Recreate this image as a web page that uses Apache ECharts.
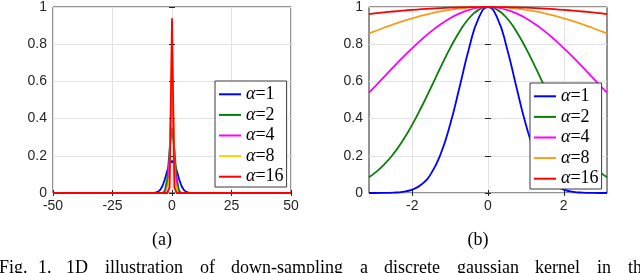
<!DOCTYPE html>
<html>
<head>
<meta charset="utf-8">
<script src="https://cdn.jsdelivr.net/npm/echarts@6/dist/echarts.min.js"></script>
<style>
html,body{margin:0;padding:0;background:#fff;}
#c{width:640px;height:273px;}
</style>
</head>
<body>
<div id="c"></div>
<script>
// ---- data ----
const seriesNames = ['α=1', 'α=2', 'α=4', 'α=8', 'α=16'];

// (a) spatial kernels
const xA = [-50, -8, -7, -6, -5, -4, -3, -2, -1, 0, 1, 2, 3, 4, 5, 6, 7, 8, 50];
const a1 = [0, 0.0004, 0.002, 0.006, 0.016, 0.038, 0.074, 0.119, 0.157, 0.173, 0.157, 0.119, 0.074, 0.038, 0.016, 0.006, 0.002, 0.0004, 0];
const a2 = [0, 0, 0, 0, 0, 0.0007, 0.011, 0.075, 0.238, 0.35, 0.238, 0.075, 0.011, 0.0007, 0, 0, 0, 0, 0];
const a4 = [0, 0, 0, 0, 0, 0, 0, 0.005, 0.19, 0.62, 0.19, 0.005, 0, 0, 0, 0, 0, 0, 0];
const a8 = [0, 0, 0, 0, 0, 0, 0, 0.0005, 0.09, 0.82, 0.09, 0.0005, 0, 0, 0, 0, 0, 0, 0];
const a16 = [0, 0, 0, 0, 0, 0, 0, 0, 0.03, 0.94, 0.03, 0, 0, 0, 0, 0, 0, 0, 0];

// (b) frequency responses
const xB = [-3.1416, -3, -2.75, -2.5, -2.25, -2, -1.75, -1.5, -1.25, -1, -0.75, -0.5, -0.25, 0,
            0.25, 0.5, 0.75, 1, 1.25, 1.5, 1.75, 2, 2.25, 2.5, 2.75, 3, 3.1416];
const b1 = [0.0001, 0.0001, 0.0005, 0.0019, 0.0063, 0.0183, 0.0468, 0.1054, 0.2096, 0.3679, 0.5698, 0.7788, 0.9394, 1,
            0.9394, 0.7788, 0.5698, 0.3679, 0.2096, 0.1054, 0.0468, 0.0183, 0.0063, 0.0019, 0.0005, 0.0001, 0.0001];
const b2 = [0.0848, 0.1054, 0.1510, 0.2096, 0.2821, 0.3679, 0.4650, 0.5698, 0.6766, 0.7788, 0.8688, 0.9394, 0.9845, 1,
            0.9845, 0.9394, 0.8688, 0.7788, 0.6766, 0.5698, 0.4650, 0.3679, 0.2821, 0.2096, 0.1510, 0.1054, 0.0848];
const b4 = [0.5396, 0.5698, 0.6233, 0.6766, 0.7288, 0.7788, 0.8258, 0.8688, 0.9070, 0.9394, 0.9654, 0.9845, 0.9961, 1,
            0.9961, 0.9845, 0.9654, 0.9394, 0.9070, 0.8688, 0.8258, 0.7788, 0.7288, 0.6766, 0.6233, 0.5698, 0.5396];
const b8 = [0.8571, 0.8688, 0.8885, 0.9070, 0.9239, 0.9394, 0.9533, 0.9654, 0.9759, 0.9845, 0.9912, 0.9961, 0.9990, 1,
            0.9990, 0.9961, 0.9912, 0.9845, 0.9759, 0.9654, 0.9533, 0.9394, 0.9239, 0.9070, 0.8885, 0.8688, 0.8571];
const b16 = [0.9622, 0.9654, 0.9709, 0.9759, 0.9804, 0.9845, 0.9881, 0.9912, 0.9939, 0.9961, 0.9978, 0.9990, 0.9998, 1,
             0.9998, 0.9990, 0.9978, 0.9961, 0.9939, 0.9912, 0.9881, 0.9845, 0.9804, 0.9759, 0.9709, 0.9654, 0.9622];

const xTicksA = [-50, -25, 0, 25, 50];
const xTicksB = [-2, 0, 2];
const yTicks = [0, 0.2, 0.4, 0.6, 0.8, 1];

const subLabels = ['(a)', '(b)'];
const captionWords = ['Fig.', '1.', '1D', 'illustration', 'of', 'down-sampling', 'a', 'discrete', 'gaussian', 'kernel', 'in', 'the'];

// ---- styles ----
const colorsA = ['#0000ff', '#008000', '#ff00ff', '#ffd200', '#ff0000'];
const colorsB = ['#0000ff', '#0a7d0a', '#ff00ff', '#f0a020', '#ff0000'];
const captionX = [-1, 38, 66, 105, 200, 231, 360, 384, 457, 535, 597, 628];

const dataA = [a1, a2, a4, a8, a16];
const dataB = [b1, b2, b4, b8, b16];

const axisColor = '#262626';
const labelFont = {fontFamily: 'Liberation Sans', fontSize: 14, color: axisColor};

function pair(xs, ys) { return xs.map((x, i) => [x, ys[i]]); }

function xAxisCfg(gridIndex, pos, opts) {
  return Object.assign({
    type: 'value', gridIndex, position: pos,
    axisLine: {show: false},
    axisTick: {show: true, inside: true, length: 3, lineStyle: {color: axisColor}},
    axisLabel: Object.assign({show: pos === 'bottom', margin: 6}, labelFont),
    splitLine: {show: pos === 'bottom', lineStyle: {color: '#e3e3e3', width: 1}}
  }, opts);
}
function yAxisCfg(gridIndex, pos) {
  return {
    type: 'value', gridIndex, position: pos, min: 0, max: 1, interval: 0.2,
    axisLine: {show: false},
    axisTick: {show: true, inside: true, length: 3, lineStyle: {color: axisColor}},
    axisLabel: Object.assign({show: pos === 'left', margin: 6}, labelFont),
    splitLine: {show: pos === 'left', lineStyle: {color: '#e3e3e3', width: 1}}
  };
}

const aOpts = {min: xTicksA[0], max: xTicksA[xTicksA.length - 1], interval: 25};
const bOpts = {
  min: xB[0], max: xB[xB.length - 1],
  axisLabel: Object.assign({show: true, margin: 6, customValues: xTicksB}, labelFont),
  axisTick: {show: true, inside: true, length: 3, customValues: xTicksB, lineStyle: {color: axisColor}}
};
const bOptsTop = {
  min: xB[0], max: xB[xB.length - 1],
  axisLabel: {show: false},
  axisTick: {show: true, inside: true, length: 3, customValues: xTicksB, lineStyle: {color: axisColor}}
};

function legendCfg(left, top, colors) {
  return {
    orient: 'vertical', left, top, itemGap: 0, itemWidth: 22, itemHeight: 2, icon: 'rect',
    padding: [3, 3, 0, 4], backgroundColor: '#fff', borderColor: '#3a3a3a', borderWidth: 1,
    selectedMode: false,
    data: seriesNames.map((n, i) => ({name: n, itemStyle: {color: colors[i]}})),
    formatter: function (name) { return '{a|α}{b|' + name.slice(1) + '}'; },
    textStyle: {
      color: '#000', lineHeight: 20.6,
      rich: {
        a: {fontFamily: 'Liberation Serif', fontStyle: 'italic', fontSize: 18, color: '#000', lineHeight: 20.6},
        b: {fontFamily: 'Liberation Serif', fontSize: 18, color: '#000', lineHeight: 20.6}
      }
    }
  };
}

const series = [];
seriesNames.forEach((n, i) => {
  series.push({
    name: n, type: 'line', xAxisIndex: 0, yAxisIndex: 0, data: pair(xA, dataA[i]),
    symbol: 'none', lineStyle: {color: colorsA[i], width: 1.8}, itemStyle: {color: colorsA[i]}
  });
});
seriesNames.forEach((n, i) => {
  series.push({
    name: n, type: 'line', xAxisIndex: 2, yAxisIndex: 2, data: pair(xB, dataB[i]),
    symbol: 'none', smooth: true, lineStyle: {color: colorsB[i], width: 1.8}, itemStyle: {color: colorsB[i]}
  });
});

const graphics = [];
[[162, subLabels[0]], [478, subLabels[1]]].forEach(([x, t]) => {
  graphics.push({type: 'text', x, y: 240, style: {text: t, font: '18px "Liberation Serif"', fill: '#000', align: 'center', verticalAlign: 'middle'}});
});
captionWords.forEach((w, i) => {
  graphics.push({type: 'text', x: captionX[i], y: 268.5, style: {text: w, font: '18px "Liberation Serif"', fill: '#000', align: 'left', verticalAlign: 'middle'}});
});

const chart = echarts.init(document.getElementById('c'), null, {renderer: 'canvas'});
chart.setOption({
  animation: false,
  backgroundColor: '#fff',
  grid: [
    {left: 53, right: 349, top: 5, bottom: 80, show: true, borderColor: axisColor, borderWidth: 1, backgroundColor: 'transparent'},
    {left: 369, right: 33, top: 5, bottom: 80, show: true, borderColor: axisColor, borderWidth: 1, backgroundColor: 'transparent'}
  ],
  xAxis: [
    xAxisCfg(0, 'bottom', aOpts),
    xAxisCfg(0, 'top', Object.assign({}, aOpts, {axisLabel: {show: false}})),
    xAxisCfg(1, 'bottom', bOpts),
    xAxisCfg(1, 'top', bOptsTop)
  ],
  yAxis: [yAxisCfg(0, 'left'), yAxisCfg(0, 'right'), yAxisCfg(1, 'left'), yAxisCfg(1, 'right')],
  legend: [legendCfg(215, 81, colorsA), legendCfg(530, 83, colorsB)],
  series,
  graphic: graphics
});
</script>
</body>
</html>
